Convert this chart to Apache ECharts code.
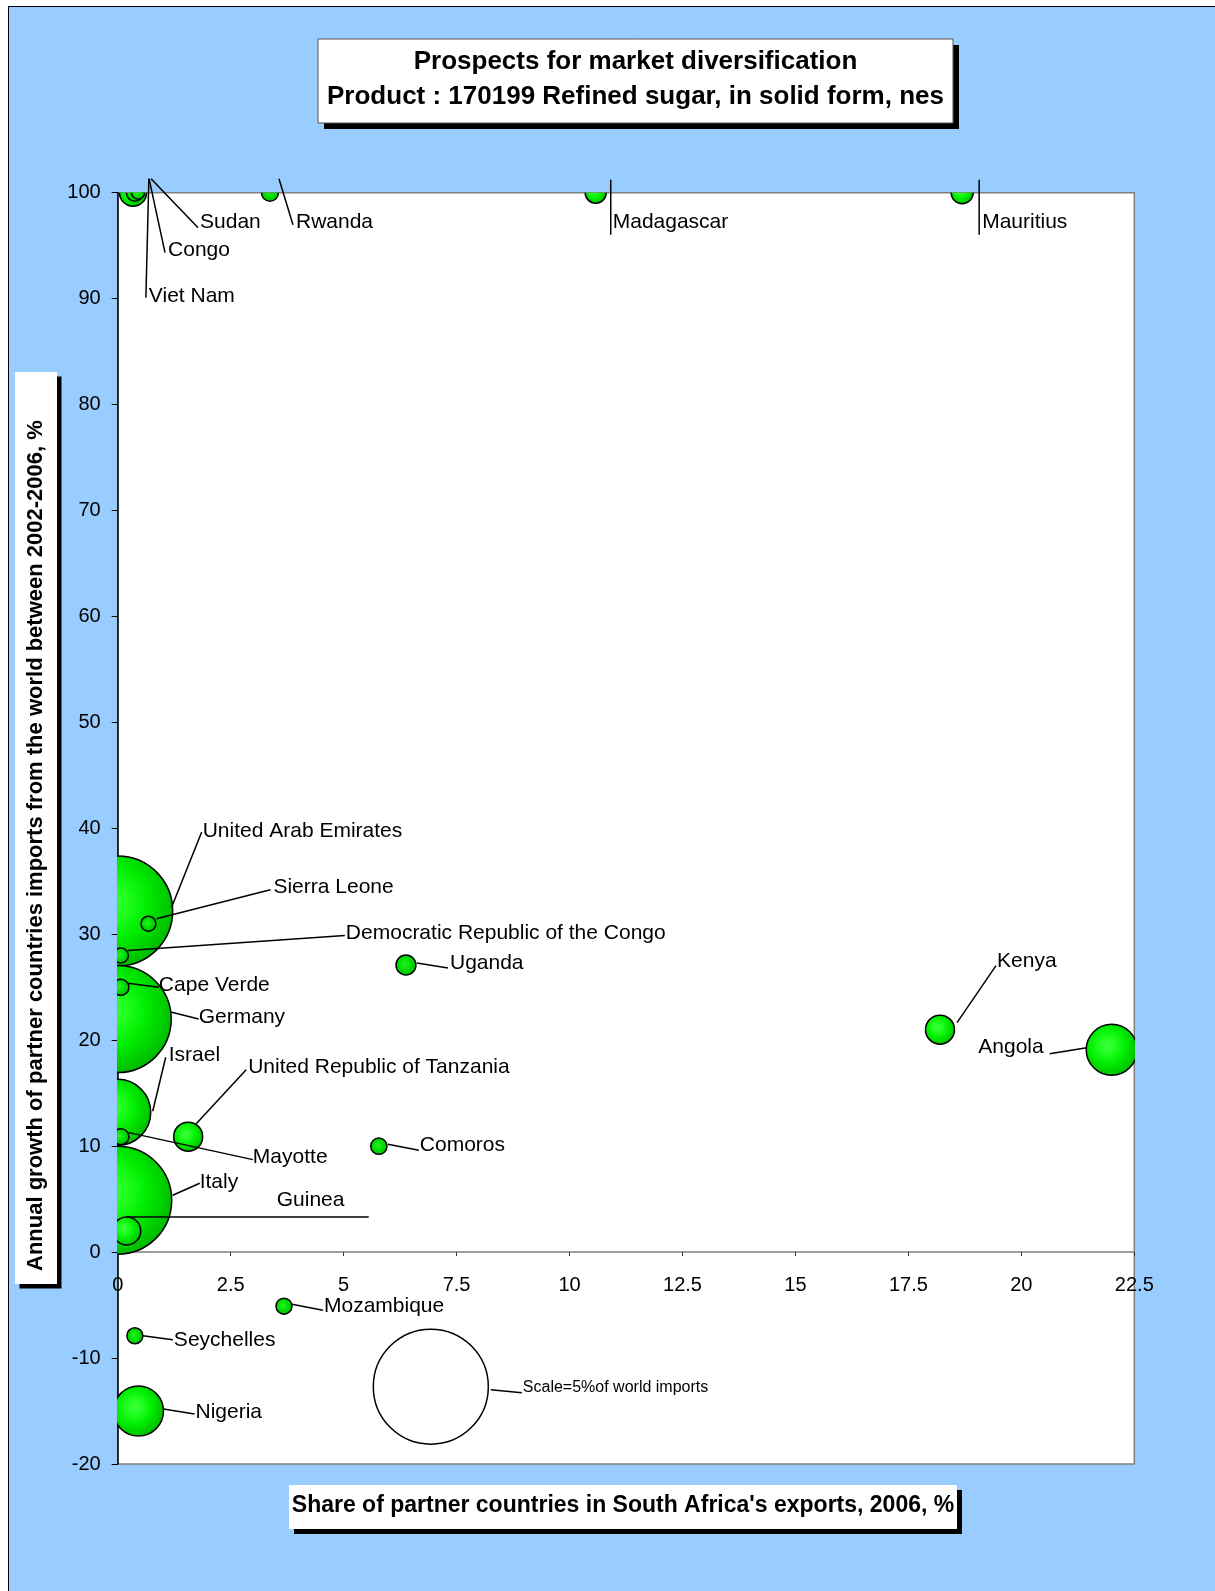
<!DOCTYPE html>
<html>
<head>
<meta charset="utf-8">
<title>Prospects for market diversification</title>
<script src="https://cdn.jsdelivr.net/npm/echarts@6/dist/echarts.min.js"></script>
<style>
  html, body { margin: 0; padding: 0; background: #ffffff; width: 1215px; height: 1591px; overflow: hidden; }
  #frame { position: absolute; left: 8px; top: 6px; width: 1400px; height: 1800px;
           background: #99CCFF; border-left: 1px solid #000; border-top: 1px solid #000; }
  #chart { position: absolute; left: 0; top: 0; width: 1215px; height: 1591px; }
</style>
</head>
<body>
<div id="frame"></div>
<div id="chart"></div>
<script>
// Partner markets for South African refined sugar (HS 170199)
const countries = [
  'Viet Nam', 'Congo', 'Sudan', 'Rwanda', 'Madagascar', 'Mauritius',
  'United Arab Emirates', 'Sierra Leone', 'Democratic Republic of the Congo', 'Uganda',
  'Cape Verde', 'Germany', 'Israel', 'United Republic of Tanzania', 'Mayotte', 'Comoros',
  'Italy', 'Guinea', 'Mozambique', 'Seychelles', 'Nigeria', 'Kenya', 'Angola'
];
// Share of partner in South Africa's exports, 2006, %
const exportShare = [
  0.38, 0.45, 0.34, 3.37, 10.58, 18.69,
  0.0, 0.68, 0.07, 6.38,
  0.07, 0.0, 0.0, 1.56, 0.07, 5.78,
  0.0, 0.2, 3.68, 0.38, 0.46, 18.2, 22.0
];
// Annual growth of partner imports from the world 2002-2006, %
const importGrowth = [
  100, 100, 100, 100, 100, 100,
  32.2, 31.0, 28.0, 27.1,
  25.0, 22.0, 13.2, 10.9, 10.9, 10.0,
  4.9, 2.0, -5.1, -7.9, -15.0, 21.0, 19.1
];
// Partner share of world imports, % (bubble size)
const worldImportShare = [
  0.11, 0.064, 0.276, 0.109, 0.167, 0.183,
  4.57, 0.085, 0.085, 0.151,
  0.097, 4.33, 1.65, 0.318, 0.097, 0.1,
  4.41, 0.296, 0.097, 0.097, 0.945, 0.318, 0.98
];
// Reference bubble
const scaleLabel = 'Scale=5%of world imports';
const scaleBubble = [6.93, -12.7, 5];

// Axis ranges
const xRange = { min: 0, max: 22.5, step: 2.5 };
const yRange = { min: -20, max: 100, step: 10 };

const titleLines = ['Prospects for market diversification', 'Product : 170199 Refined sugar, in solid form, nes'];
const xTitle = "Share of partner countries in South Africa's exports, 2006, %";
const yTitle = 'Annual growth of partner countries imports from the world between 2002-2006, %';

// ---------------------------------------------------------------------------
const FONT = "'Liberation Sans', Arial, Helvetica, sans-serif";
const SCALE_DIAMETER = 115;           // pixel diameter of a 5% bubble
function diameter(v) { return SCALE_DIAMETER * Math.sqrt(v / 5); }

const GRID = { left: 117.7, top: 192.7, right: 80.7, bottom: 127 };
const plotHeight = 1591 - GRID.top - GRID.bottom;
// distance from the plot bottom up to the zero line, so the x axis crosses at 0
const xAxisLift = plotHeight * (0 - yRange.min) / (yRange.max - yRange.min);

// Callout placement, pixel offsets from the bubble centre:
// at = text anchor, line = leader line points, align = text alignment
const callouts = {
  'Viet Nam': { at: [14, 104], line: [[11, 105], [14, -14]] },
  'Congo': { at: [30, 58], line: [[27, 60], [11, -14]] },
  'Sudan': { at: [67, 30], line: [[65, 35], [18, -14]] },
  'Rwanda': { at: [26, 30], line: [[23, 32], [9, -14]] },
  'Madagascar': { at: [17, 30], line: [[15, 42], [15, -13]] },
  'Mauritius': { at: [20, 30], line: [[17, 42], [17, -13]] },
  'United Arab Emirates': { at: [85, -80], line: [[84, -79], [54, -4]] },
  'Sierra Leone': { at: [125, -36], line: [[122, -34], [8, -5]] },
  'Democratic Republic of the Congo': { at: [225, -22], line: [[224, -20], [7, -5]] },
  'Uganda': { at: [44, -2], line: [[42, 3], [11, -2]] },
  'Cape Verde': { at: [38, -2], line: [[38, 0], [7, -4]] },
  'Germany': { at: [81, -2], line: [[81, 0], [53, -7]] },
  'Israel': { at: [51, -57], line: [[48, -55], [35, -1]] },
  'United Republic of Tanzania': { at: [60, -69], line: [[58, -67], [8, -13]] },
  'Mayotte': { at: [132, 21], line: [[132, 23], [8, -4]] },
  'Comoros': { at: [41, -1], line: [[40, 4], [9, -2]] },
  'Italy': { at: [82, -18], line: [[82, -17], [55, -5]] },
  'Guinea': { at: [150, -31], line: [[0, -14], [242, -14]] },
  'Mozambique': { at: [40, 0], line: [[39, 4], [8, -2]] },
  'Seychelles': { at: [39, 4], line: [[38, 4], [8, 0]] },
  'Nigeria': { at: [57, 1], line: [[56, 3], [25, -2]] },
  'Kenya': { at: [57, -68], line: [[56, -64], [17, -7]] },
  'Angola': { at: [-68, -3], align: 'right', line: [[-62, 4], [-25, -2]] }
};
const scaleCallout = { at: [92, 1], line: [[60, 3], [91, 6]] };

// Bubble data, largest first so small bubbles sit on top
const bubbleData = countries.map((name, i) => ({
  name: name, value: [exportShare[i], importGrowth[i], worldImportShare[i]]
})).sort((a, b) => b.value[2] - a.value[2]);

const calloutData = countries.map((name, i) => ({
  name: name, value: [exportShare[i], importGrowth[i], worldImportShare[i]]
}));

function greenFill(r) {
  if (r < 10) {
    return new echarts.graphic.RadialGradient(0.45, 0.45, 0.6, [
      { offset: 0, color: '#22F522' },
      { offset: 0.55, color: '#00D800' },
      { offset: 1, color: '#00C000' }
    ]);
  }
  return new echarts.graphic.RadialGradient(0.42, 0.42, 0.62, [
    { offset: 0, color: '#3CFF3C' },
    { offset: 0.25, color: '#22FF22' },
    { offset: 0.55, color: '#00EE00' },
    { offset: 0.8, color: '#00D000' },
    { offset: 1, color: '#00B400' }
  ]);
}

const chart = echarts.init(document.getElementById('chart'), null, { renderer: 'canvas' });

const option = {
  animation: false,
  backgroundColor: 'transparent',
  textStyle: { fontFamily: FONT },
  grid: {
    left: GRID.left, top: GRID.top, right: GRID.right, bottom: GRID.bottom,
    show: true, backgroundColor: '#ffffff', borderColor: '#808080', borderWidth: 1.5
  },
  xAxis: {
    type: 'value', min: xRange.min, max: xRange.max, interval: xRange.step,
    position: 'bottom',
    offset: -xAxisLift,
    axisLine: { show: true, onZero: false, lineStyle: { color: '#808080', width: 1.5 } },
    axisTick: { show: true, inside: false, length: 4, lineStyle: { color: '#333', width: 1 } },
    axisLabel: { fontSize: 20, color: '#000', margin: 23, fontFamily: FONT },
    splitLine: { show: false }
  },
  yAxis: {
    type: 'value', min: yRange.min, max: yRange.max, interval: yRange.step,
    axisLine: { show: true, onZero: false, lineStyle: { color: '#000', width: 1.5 } },
    axisTick: { show: true, inside: false, length: 6, lineStyle: { color: '#000', width: 1 } },
    axisLabel: { fontSize: 20, color: '#000', margin: 17, fontFamily: FONT },
    splitLine: { show: false }
  },
  series: [
    {
      // the reference 5% bubble
      type: 'custom',
      clip: true,
      z: 2,
      data: [scaleBubble],
      renderItem: function (params, api) {
        const c = api.coord([api.value(0), api.value(1)]);
        const r = diameter(api.value(2)) / 2;
        return { type: 'circle', shape: { cx: c[0], cy: c[1], r: r },
                 style: { fill: '#ffffff', stroke: '#000', lineWidth: 1.5 } };
      }
    },
    {
      // partner bubbles
      type: 'custom',
      clip: true,
      z: 3,
      data: bubbleData,
      renderItem: function (params, api) {
        const c = api.coord([api.value(0), api.value(1)]);
        const r = diameter(api.value(2)) / 2;
        return { type: 'circle', shape: { cx: c[0], cy: c[1], r: r },
                 style: { fill: greenFill(r), stroke: '#000', lineWidth: 1.5 } };
      }
    },
    {
      // country callouts with leader lines
      type: 'custom',
      clip: false,
      z: 5,
      silent: true,
      data: calloutData,
      renderItem: function (params, api) {
        const name = calloutData[params.dataIndex].name;
        const place = callouts[name];
        const c = api.coord([api.value(0), api.value(1)]);
        return {
          type: 'group',
          children: [
            { type: 'polyline',
              shape: { points: place.line.map(q => [c[0] + q[0], c[1] + q[1]]) },
              style: { stroke: '#000', lineWidth: 1.5, fill: null } },
            { type: 'text', x: c[0] + place.at[0], y: c[1] + place.at[1],
              style: { text: name, fill: '#000', fontSize: 21, fontFamily: FONT,
                       align: place.align || 'left', verticalAlign: 'middle' } }
          ]
        };
      }
    },
    {
      // scale bubble caption
      type: 'custom',
      clip: false,
      z: 5,
      silent: true,
      data: [scaleBubble],
      renderItem: function (params, api) {
        const c = api.coord([api.value(0), api.value(1)]);
        return {
          type: 'group',
          children: [
            { type: 'polyline',
              shape: { points: scaleCallout.line.map(q => [c[0] + q[0], c[1] + q[1]]) },
              style: { stroke: '#000', lineWidth: 1.5, fill: null } },
            { type: 'text', x: c[0] + scaleCallout.at[0], y: c[1] + scaleCallout.at[1],
              style: { text: scaleLabel, fill: '#000', fontSize: 16, fontFamily: FONT,
                       align: 'left', verticalAlign: 'middle' } }
          ]
        };
      }
    }
  ],
  graphic: [
    // chart title box with drop shadow
    { type: 'rect', shape: { x: 324, y: 45, width: 635, height: 84 }, style: { fill: '#000' }, z: 10 },
    { type: 'rect', shape: { x: 318, y: 39, width: 635, height: 84 },
      style: { fill: '#fff', stroke: '#555', lineWidth: 1 }, z: 11 },
    { type: 'text', x: 635.5, y: 62, z: 12,
      style: { text: titleLines[0], fill: '#000', fontSize: 26, fontWeight: 'bold', fontFamily: FONT,
               align: 'center', verticalAlign: 'middle' } },
    { type: 'text', x: 635.5, y: 97, z: 12,
      style: { text: titleLines[1], fill: '#000', fontSize: 26, fontWeight: 'bold', fontFamily: FONT,
               align: 'center', verticalAlign: 'middle' } },
    // x-axis title box
    { type: 'rect', shape: { x: 294, y: 1490, width: 668, height: 44 }, style: { fill: '#000' }, z: 10 },
    { type: 'rect', shape: { x: 289, y: 1485, width: 668, height: 44 }, style: { fill: '#fff' }, z: 11 },
    { type: 'text', x: 623, y: 1506, z: 12,
      style: { text: xTitle, fill: '#000', fontSize: 23, fontWeight: 'bold', fontFamily: FONT,
               align: 'center', verticalAlign: 'middle' } },
    // y-axis title box
    { type: 'rect', shape: { x: 19.5, y: 376.5, width: 42, height: 912 }, style: { fill: '#000' }, z: 10 },
    { type: 'rect', shape: { x: 15, y: 372, width: 42, height: 912 }, style: { fill: '#fff' }, z: 11 },
    { type: 'text', x: 36, y: 1271, rotation: Math.PI / 2, z: 12,
      style: { text: yTitle, fill: '#000', fontSize: 22, fontWeight: 'bold', fontFamily: FONT,
               align: 'left', verticalAlign: 'middle' } }
  ]
};

chart.setOption(option);
</script>
</body>
</html>
